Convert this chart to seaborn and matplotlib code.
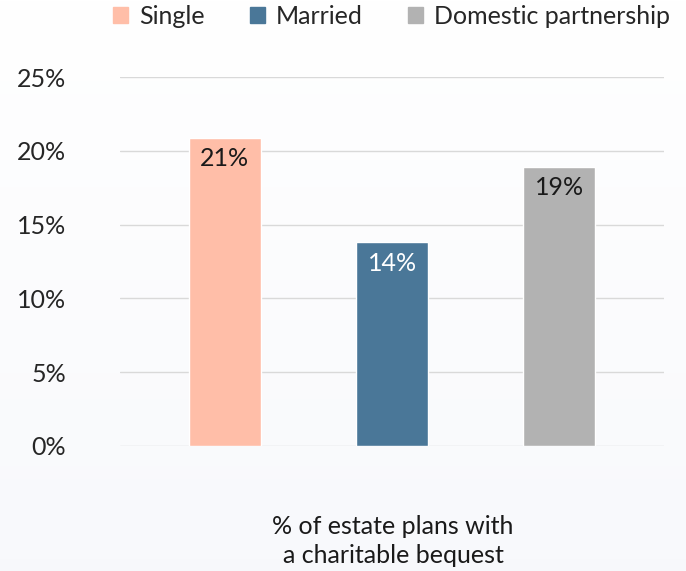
import numpy as np
import pandas as pd
import seaborn as sns
import matplotlib.pyplot as plt
import matplotlib.patches as mpatches
from matplotlib.ticker import PercentFormatter

categories = ['Single', 'Married', 'Domestic partnership']
values = [0.209, 0.138, 0.189]
bar_labels = ['21%', '14%', '19%']
colors = ['#ffbea8', '#4a7798', '#b2b2b2']
label_colors = ['#1a1a1a', 'white', '#1a1a1a']
yticks = [0, 0.05, 0.10, 0.15, 0.20, 0.25]

sns.set_style('white')
plt.rcParams['font.family'] = ['Lato', 'DejaVu Sans']

df = pd.DataFrame({'group': categories, 'share': values})

fig = plt.figure(figsize=(6.86, 5.71), dpi=100)

# soft background gradient, white at top to a faint blue-grey at bottom
bg = fig.add_axes([0, 0, 1, 1], zorder=-1)
grad = np.linspace(0, 1, 256).reshape(-1, 1)
top = np.array([1.0, 1.0, 1.0])
bot = np.array([0.972, 0.976, 0.988])
img = top + (bot - top) * grad[..., None]
bg.imshow(img, aspect='auto', extent=[0, 1, 0, 1])
bg.axis('off')

ax = fig.add_axes([0.175, 0.219, 0.793, 0.646])
ax.patch.set_alpha(0)
sns.barplot(data=df, x='group', y='share', hue='group', palette=colors,
            width=0.43, legend=False, saturation=1, ax=ax)

for i, bar in enumerate(ax.patches):
    ax.annotate(bar_labels[i], (bar.get_x() + bar.get_width() / 2, bar.get_height()),
                xytext=(0, -15), textcoords='offset points', ha='center', va='center',
                fontsize=18, color=label_colors[i])

ax.set_ylim(0, 0.25)
ax.set_xlim(-0.627, 2.627)
ax.set_yticks(yticks)
ax.yaxis.set_major_formatter(PercentFormatter(1, decimals=0))
ax.yaxis.grid(True, color='#d9d9d9', linewidth=1)
ax.set_axisbelow(True)
ax.set_xticks([])
ax.set_xlabel('')
ax.set_ylabel('')
ax.tick_params(axis='y', length=0, pad=39, labelsize=18, labelcolor='#262626')
sns.despine(ax=ax, left=True, bottom=True)

patches = [mpatches.Patch(color=colors[i], label=c) for i, c in enumerate(categories)]
leg = fig.legend(handles=patches, loc='upper center', bbox_to_anchor=(0.571, 1.031),
                 ncol=3, frameon=False, fontsize=18, handlelength=0.6,
                 handleheight=0.6, handletextpad=0.45, columnspacing=1.8)
for t in leg.get_texts():
    t.set_color('#262626')

fig.text(0.573, 0.0525, '% of estate plans with\na charitable bequest', ha='center',
         va='center', fontsize=18, color='#1a1a1a', linespacing=1.36)

fig.savefig('out.png', dpi=100)
